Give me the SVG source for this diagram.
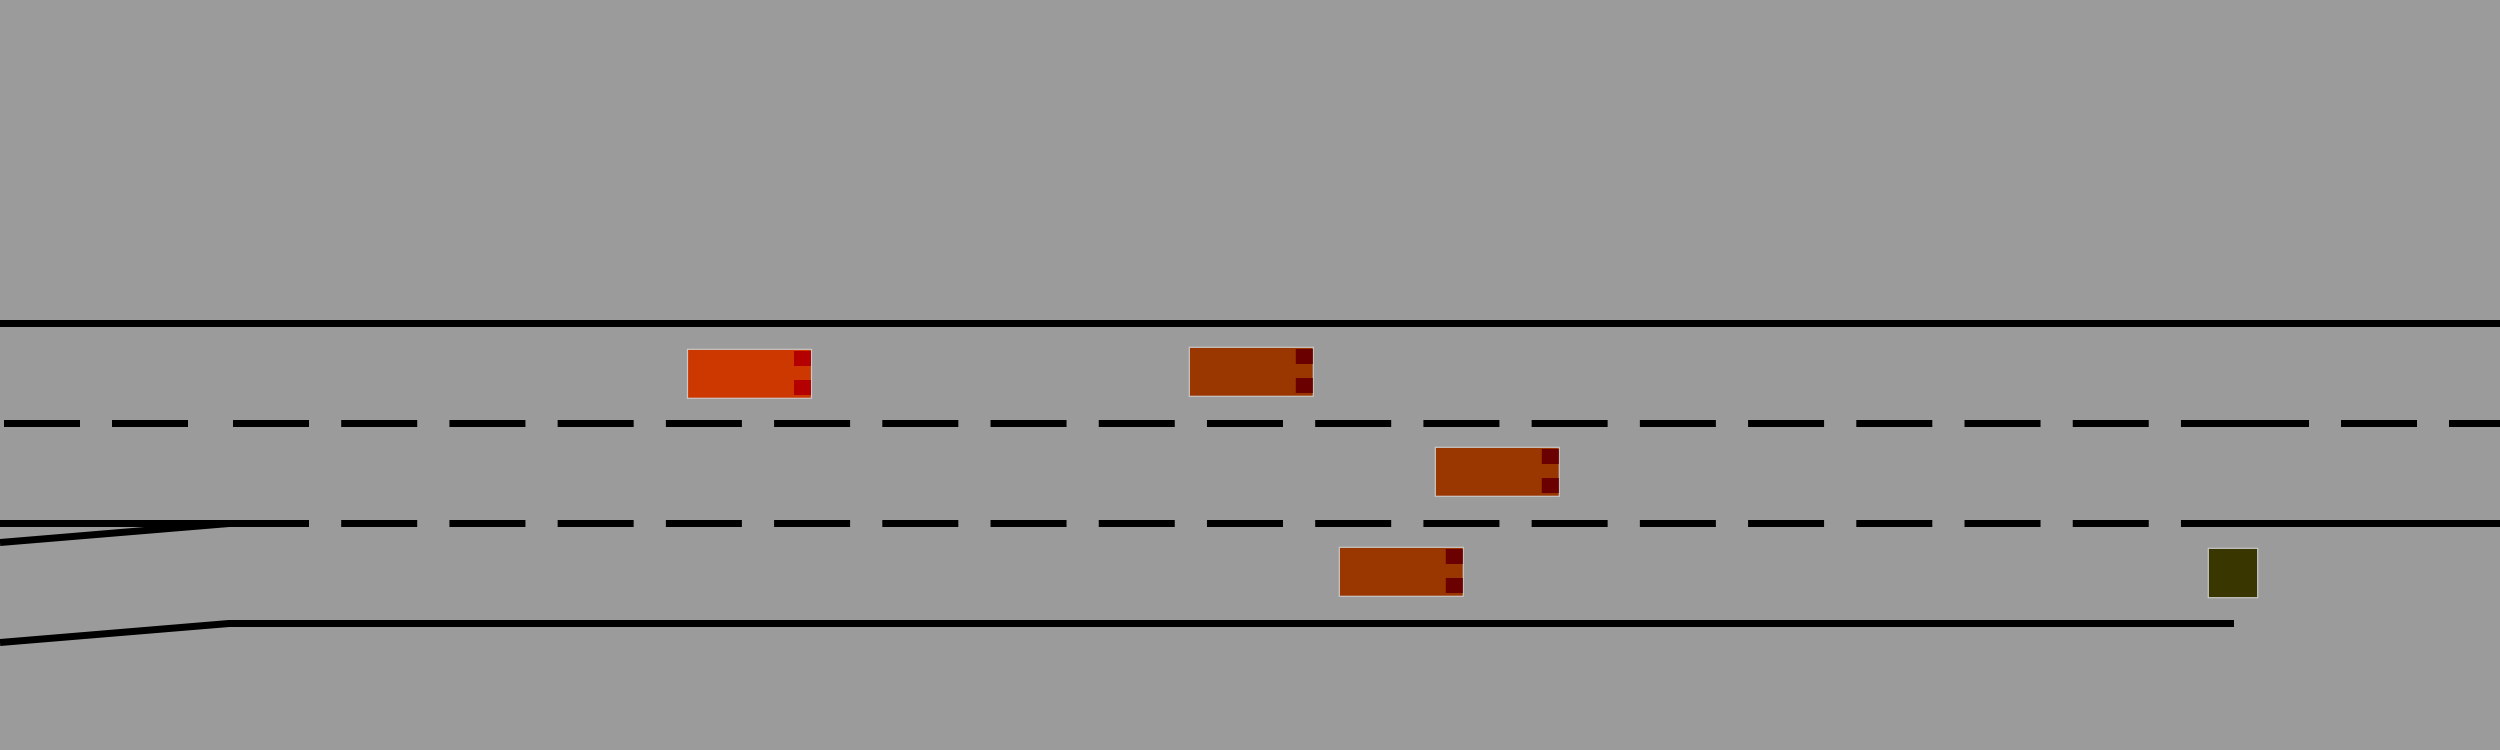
<svg xmlns="http://www.w3.org/2000/svg" width="2500" height="750" viewBox="0 0 2500 750">
  <style>
    .bg { fill: #9b9b9b; }
    .road { stroke: #000000; stroke-width: 7; fill: none; }
    .dash { stroke: #000000; stroke-width: 7; fill: none; stroke-dasharray: 76 32.22; }
    .dash108 { stroke: #000000; stroke-width: 7; fill: none; stroke-dasharray: 76 32; }
    .body { stroke: #c8c8c8; stroke-width: 1.2; }
    .ego { fill: #cd3700; }
    .ego-light { fill: #b40000; }
    .car { fill: #9a3600; }
    .car-light { fill: #6b0000; }
    .obst { fill: #393600; stroke: #c8c8c8; stroke-width: 1.2; }
  </style>
  <defs>
    <g id="vehicle-shape">
      <rect class="body" x="0" y="0" width="124" height="49"/>
    </g>
  </defs>
  <rect class="bg" x="0" y="0" width="2500" height="750"/>

  <g id="road">
    <!-- top edge -->
    <line class="road" x1="0" y1="323.5" x2="2500" y2="323.5"/>
    <!-- upper lane divider -->
    <line class="dash108" x1="4" y1="423.5" x2="200" y2="423.5"/>
    <line class="dash" x1="233" y1="423.5" x2="2233" y2="423.5"/>
    <line class="dash108" x1="2233" y1="423.5" x2="2500" y2="423.5"/>
    <!-- lower lane divider -->
    <line class="road" x1="0" y1="523.5" x2="233" y2="523.5"/>
    <line class="dash" x1="233" y1="523.5" x2="2181" y2="523.5"/>
    <line class="road" x1="2181" y1="523.5" x2="2500" y2="523.5"/>
    <!-- on-ramp -->
    <line class="road" x1="0" y1="542.5" x2="229" y2="523.5"/>
    <line class="road" x1="0" y1="642.5" x2="229" y2="623.5"/>
    <!-- bottom edge -->
    <line class="road" x1="228" y1="623.5" x2="2234" y2="623.5"/>
  </g>

  <g id="ego-car" transform="translate(687.5,349.3)">
    <rect class="body ego" x="0" y="0" width="124" height="49"/>
    <rect class="ego-light" x="106.5" y="1.7" width="17" height="15"/>
    <rect class="ego-light" x="106.5" y="30.7" width="17" height="15"/>
  </g>

  <g id="car-2" transform="translate(1189.3,347.3)">
    <rect class="body car" x="0" y="0" width="124" height="49"/>
    <rect class="car-light" x="106.5" y="1.7" width="17" height="15"/>
    <rect class="car-light" x="106.5" y="30.7" width="17" height="15"/>
  </g>

  <g id="car-3" transform="translate(1435.3,447.3)">
    <rect class="body car" x="0" y="0" width="124" height="49"/>
    <rect class="car-light" x="106.5" y="1.7" width="17" height="15"/>
    <rect class="car-light" x="106.5" y="30.7" width="17" height="15"/>
  </g>

  <g id="car-4" transform="translate(1339.3,547.3)">
    <rect class="body car" x="0" y="0" width="124" height="49"/>
    <rect class="car-light" x="106.5" y="1.7" width="17" height="15"/>
    <rect class="car-light" x="106.5" y="30.7" width="17" height="15"/>
  </g>

  <g id="obstacle">
    <rect class="obst" x="2208.3" y="548.3" width="49.4" height="49.4"/>
  </g>
</svg>
